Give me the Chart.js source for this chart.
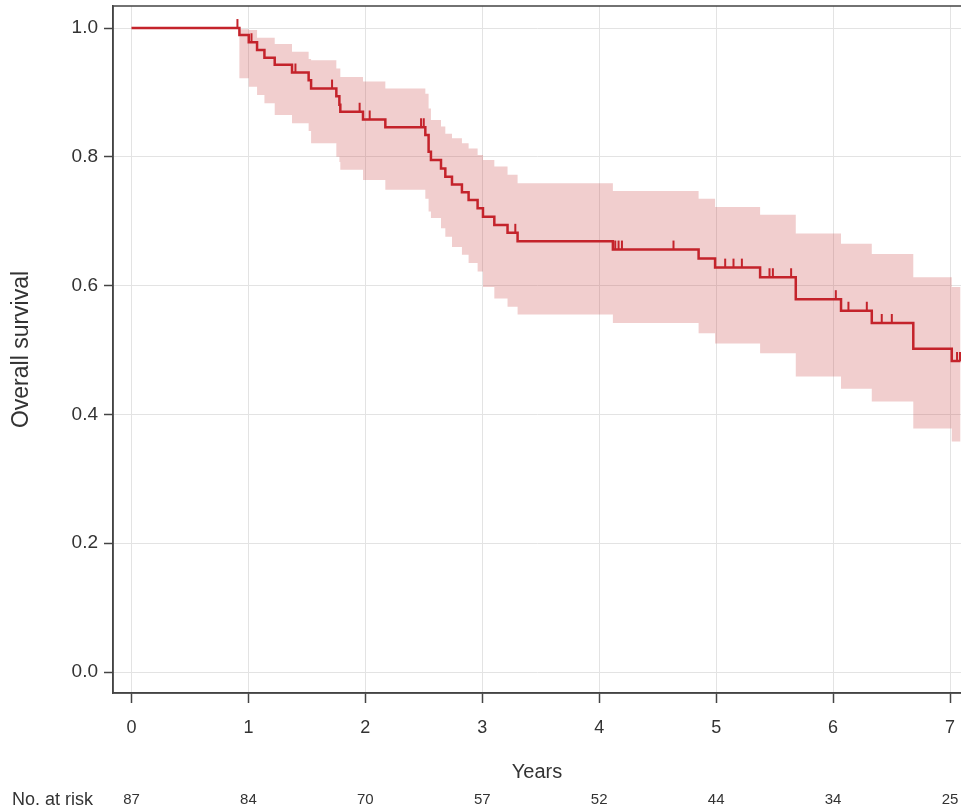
<!DOCTYPE html>
<html>
<head>
<meta charset="utf-8">
<script src="https://cdn.jsdelivr.net/npm/chart.js@4.4.1/dist/chart.umd.min.js"></script>
<style>
  html, body { margin: 0; padding: 0; background: #fff; }
  #wrap { width: 961px; height: 812px; }
</style>
</head>
<body>
<div id="wrap"><canvas id="kmChart" width="961" height="812"></canvas></div>
<script>
// Kaplan-Meier: tiempos de evento (años) y supervivencia tras cada evento
const eventTimes = [0, 0.923, 1.003, 1.074, 1.137, 1.225, 1.373, 1.515, 1.536, 1.752, 1.778, 1.786,
  1.980, 2.171, 2.513, 2.541, 2.561, 2.647, 2.684, 2.741, 2.826, 2.883, 2.960, 3.006, 3.103, 3.216,
  3.302, 4.117, 4.850, 4.991, 5.376, 5.681, 6.068, 6.331, 6.686, 7.015];
const survival = [1, 0.989, 0.978, 0.966, 0.954, 0.943, 0.931, 0.919, 0.906, 0.894, 0.881, 0.870,
  0.858, 0.846, 0.834, 0.808, 0.795, 0.782, 0.769, 0.757, 0.745, 0.733, 0.720, 0.707, 0.694, 0.682,
  0.669, 0.656, 0.642, 0.628, 0.613, 0.579, 0.561, 0.542, 0.502, 0.483];
const ciUpper = [1, 0.998, 0.997, 0.985, 0.985, 0.975, 0.963, 0.952, 0.950, 0.937, 0.937, 0.924,
  0.917, 0.906, 0.898, 0.875, 0.857, 0.847, 0.836, 0.829, 0.821, 0.813, 0.803, 0.795, 0.785, 0.772,
  0.759, 0.747, 0.735, 0.722, 0.710, 0.681, 0.665, 0.649, 0.613, 0.598];
const ciLower = [1, 0.922, 0.909, 0.896, 0.883, 0.865, 0.852, 0.840, 0.821, 0.800, 0.792, 0.780,
  0.764, 0.749, 0.735, 0.715, 0.705, 0.689, 0.676, 0.660, 0.648, 0.635, 0.622, 0.598, 0.580, 0.567,
  0.555, 0.542, 0.526, 0.510, 0.495, 0.459, 0.440, 0.420, 0.378, 0.358];
const lastFollowUp = 7.09;

// censurados
const censorTimes = [0.906, 1.026, 1.402, 1.715, 1.951, 2.037, 2.476, 2.499, 3.282, 4.137, 4.165,
  4.194, 4.635, 5.077, 5.148, 5.220, 5.456, 5.485, 5.641, 6.023, 6.131, 6.288, 6.416, 6.502, 7.060, 7.085];

// ejes y tabla de riesgo
const yearTicks = [0, 1, 2, 3, 4, 5, 6, 7];
const survivalTicks = [0, 0.2, 0.4, 0.6, 0.8, 1.0];
const atRisk = [87, 84, 70, 57, 52, 44, 34, 25];

const lineColor = '#c4232b';
const textColor = '#333333';
const frameColor = '#444444';
const noPadding = () => ({ left: 0, top: 0, right: 0, bottom: 0 });

function stepSeries(values) {
  const pts = eventTimes.map((t, i) => ({ x: t, y: values[i] }));
  pts.push({ x: lastFollowUp, y: values[values.length - 1] });
  return pts;
}

function kmAt(t) {
  let i = 0;
  while (i + 1 < eventTimes.length && eventTimes[i + 1] <= t) i++;
  return survival[i];
}

// marca de censura: trazo vertical hacia arriba desde la curva
const censorMark = document.createElement('canvas');
censorMark.width = 4;
censorMark.height = 20;
(function () {
  const c = censorMark.getContext('2d');
  c.strokeStyle = lineColor;
  c.lineWidth = 2;
  c.beginPath();
  c.moveTo(2, 1);
  c.lineTo(2, 10);
  c.stroke();
})();

const frameAndRisk = {
  id: 'frameAndRisk',
  afterDraw(chart) {
    const { ctx, chartArea } = chart;
    const x = chart.scales.x;
    ctx.save();
    ctx.strokeStyle = frameColor;
    ctx.lineWidth = 1.5;
    ctx.beginPath();
    ctx.moveTo(chartArea.right + 2, chartArea.top);
    ctx.lineTo(chartArea.left, chartArea.top);
    ctx.lineTo(chartArea.left, chartArea.bottom);
    ctx.lineTo(chartArea.right + 2, chartArea.bottom);
    ctx.stroke();

    ctx.fillStyle = textColor;
    ctx.textBaseline = 'middle';
    ctx.font = '18px "Liberation Sans", Arial, sans-serif';
    ctx.textAlign = 'left';
    ctx.fillText('No. at risk', 12, 800);
    ctx.font = '15px "Liberation Sans", Arial, sans-serif';
    ctx.textAlign = 'center';
    yearTicks.forEach((t, i) => {
      ctx.fillText(String(atRisk[i]), x.getPixelForValue(t), 800);
    });
    ctx.restore();
  }
};

const ctx = document.getElementById('kmChart').getContext('2d');
new Chart(ctx, {
  type: 'line',
  data: {
    datasets: [
      {
        label: 'Censored',
        data: censorTimes.map(t => ({ x: t, y: kmAt(t) })),
        showLine: false,
        pointStyle: censorMark,
        pointRadius: 5,
        pointHoverRadius: 5
      },
      {
        label: 'Overall survival',
        data: stepSeries(survival),
        stepped: true,
        borderColor: lineColor,
        borderWidth: 2.5,
        pointRadius: 0,
        fill: false
      },
      {
        label: 'Upper CI',
        data: stepSeries(ciUpper),
        stepped: true,
        borderWidth: 0,
        borderColor: 'rgba(0,0,0,0)',
        pointRadius: 0,
        fill: false
      },
      {
        label: 'Lower CI',
        data: stepSeries(ciLower),
        stepped: true,
        borderWidth: 0,
        borderColor: 'rgba(0,0,0,0)',
        backgroundColor: 'rgba(200, 60, 60, 0.25)',
        pointRadius: 0,
        fill: '-1'
      }
    ]
  },
  options: {
    responsive: false,
    animation: false,
    events: [],
    layout: { autoPadding: false, padding: { top: 6, right: 0, bottom: 0, left: 0 } },
    plugins: {
      legend: { display: false },
      tooltip: { enabled: false }
    },
    scales: {
      x: {
        type: 'linear',
        min: -0.158,
        max: 7.094,
        afterBuildTicks: (scale) => { scale.ticks = yearTicks.map(v => ({ value: v })); },
        afterFit: (scale) => {
          scale.height = 119;
          scale.paddingLeft = 0;
          scale.paddingRight = 0;
          scale.getPadding = noPadding;
        },
        grid: {
          color: '#e3e3e3',
          lineWidth: 1,
          tickColor: frameColor,
          tickLength: 10,
          tickWidth: 1.5
        },
        border: { display: true, color: frameColor, width: 1.5 },
        ticks: {
          autoSkip: false,
          maxRotation: 0,
          padding: 14,
          color: textColor,
          font: { family: '"Liberation Sans", Arial, sans-serif', size: 18 },
          callback: (v) => String(v)
        },
        title: {
          display: true,
          text: 'Years',
          color: textColor,
          font: { family: '"Liberation Sans", Arial, sans-serif', size: 20 },
          padding: { top: 0, bottom: 28 }
        }
      },
      y: {
        type: 'linear',
        min: -0.0326,
        max: 1.0342,
        afterBuildTicks: (scale) => { scale.ticks = survivalTicks.map(v => ({ value: v })); },
        afterFit: (scale) => {
          scale.width = 113;
          scale.paddingTop = 0;
          scale.paddingBottom = 0;
          scale.getPadding = noPadding;
        },
        grid: {
          color: '#e3e3e3',
          lineWidth: 1,
          tickColor: frameColor,
          tickLength: 9,
          tickWidth: 1.5
        },
        border: { display: true, color: frameColor, width: 1.5 },
        ticks: {
          autoSkip: false,
          padding: 6,
          color: textColor,
          font: { family: '"Liberation Sans", Arial, sans-serif', size: 19 },
          callback: (v) => Number(v).toFixed(1)
        },
        title: {
          display: true,
          text: 'Overall survival',
          color: textColor,
          font: { family: '"Liberation Sans", Arial, sans-serif', size: 23 },
          padding: { top: 8, bottom: 0 }
        }
      }
    }
  },
  plugins: [frameAndRisk]
});
</script>
</body>
</html>
